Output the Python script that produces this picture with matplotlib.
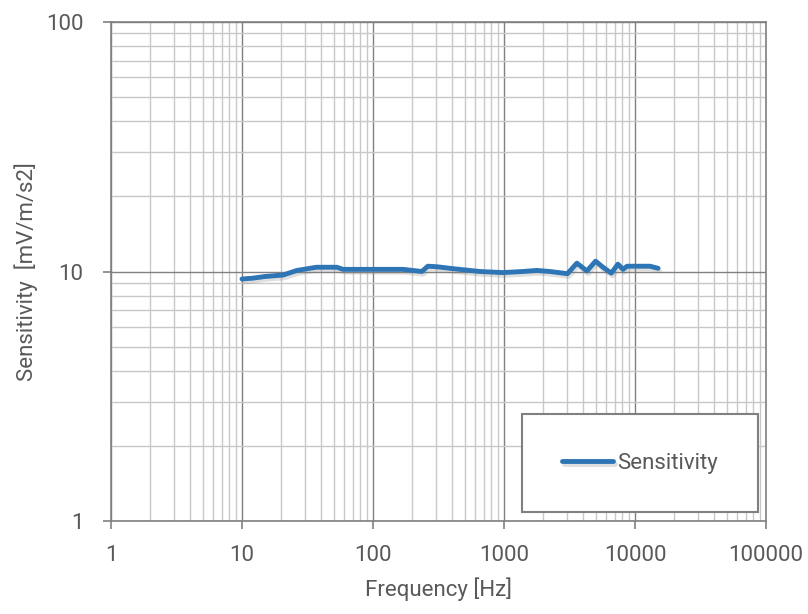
import matplotlib.pyplot as plt
import matplotlib.patheffects as pe
from matplotlib.patches import Rectangle
from matplotlib.ticker import LogLocator, FixedLocator, NullFormatter

plt.rcParams['font.family'] = ['Roboto', 'DejaVu Sans']

# values
freq = [10, 12, 15, 20.6, 26.3, 37, 53, 59, 100, 170, 236, 262, 307, 385,
        500, 655, 980, 1390, 1780, 2240, 3050, 3600, 4300, 5000, 5700, 6600,
        7400, 8100, 8700, 10900, 13000, 15000]
sens = [9.33, 9.4, 9.55, 9.68, 10.1, 10.4, 10.4, 10.2, 10.2, 10.2, 10.0, 10.5,
        10.45, 10.3, 10.15, 10.0, 9.9, 10.0, 10.1, 10.0, 9.8, 10.8, 10.05,
        11.0, 10.4, 9.85, 10.7, 10.2, 10.5, 10.5, 10.5, 10.3]

x_ticks = [1, 10, 100, 1000, 10000, 100000]
x_labels = ['1', '10', '100', '1000', '10000', '100000']
y_ticks = [1, 10, 100]
y_labels = ['1', '10', '100']

blue = '#2E75B6'
txt = '#595959'
major_c = '#808080'
minor_c = '#c8c8c8'

fig = plt.figure(figsize=(8.08, 6.14), dpi=100)
ax = fig.add_axes([111 / 808, 1 - 521 / 614, 655 / 808, 499 / 614])

ax.set_xscale('log')
ax.set_yscale('log')
ax.set_xlim(1, 100000)
ax.set_ylim(1, 100)

ax.plot(freq, sens, color=blue, lw=3.5, solid_capstyle='round', solid_joinstyle='round',
        label='Sensitivity',
        path_effects=[pe.SimpleLineShadow(offset=(1, -2), shadow_color='gray', alpha=0.25),
                      pe.Normal()])

ax.xaxis.set_major_locator(FixedLocator(x_ticks))
ax.yaxis.set_major_locator(FixedLocator(y_ticks))
ax.set_xticklabels(x_labels)
ax.set_yticklabels(y_labels)
ax.xaxis.set_minor_locator(LogLocator(base=10, subs=range(2, 10)))
ax.yaxis.set_minor_locator(LogLocator(base=10, subs=range(2, 10)))
ax.xaxis.set_minor_formatter(NullFormatter())
ax.yaxis.set_minor_formatter(NullFormatter())

ax.grid(which='major', color=major_c, lw=1.0)
ax.grid(which='minor', color=minor_c, lw=1.0)
ax.set_axisbelow(True)

for s in ['top', 'right', 'left', 'bottom']:
    ax.spines[s].set_color(major_c)
    ax.spines[s].set_linewidth(1.2)

ax.tick_params(which='major', length=6, width=1.2, color=major_c, labelcolor=txt, labelsize=16)
ax.tick_params(axis='x', which='major', pad=11)
ax.tick_params(axis='y', which='major', pad=14)
ax.tick_params(which='minor', length=0)

ax.set_xlabel('Frequency [Hz]', color=txt, fontsize=16)
ax.set_ylabel('Sensitivity  [mV/m/s2]', color=txt, fontsize=16)
ax.xaxis.set_label_coords(0.5, -0.112)
ax.yaxis.set_label_coords(-0.112, 0.5)

# legend box
box = (0.627, 0.018, 0.361, 0.196)
ax.add_patch(Rectangle(box[:2], box[2], box[3], transform=ax.transAxes,
                       facecolor='white', edgecolor=major_c, lw=1.5, zorder=5))
leg = ax.legend(loc='center', bbox_to_anchor=box, frameon=False, fontsize=16,
                handlelength=2.3, handletextpad=0.15, labelcolor=txt)
leg.set_zorder(6)

fig.savefig('out.png', dpi=100)
